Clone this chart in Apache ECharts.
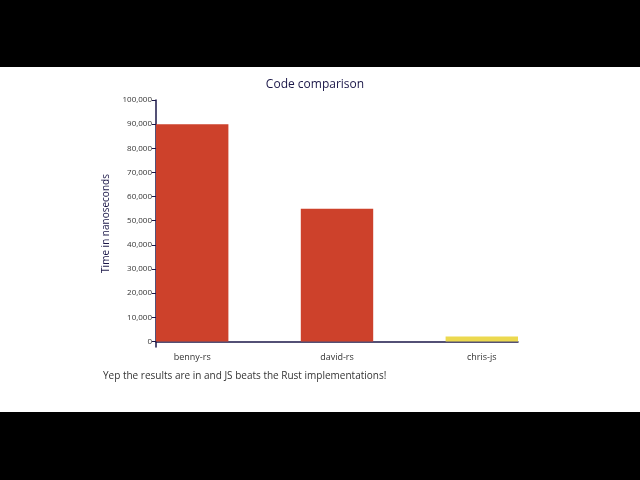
<!DOCTYPE html>
<html><head><meta charset="utf-8">
<script src="https://cdn.jsdelivr.net/npm/echarts@6/dist/echarts.min.js"></script>
<style>html,body{margin:0;padding:0;background:#000}#c{width:640px;height:480px}</style>
</head><body><div id="c"></div>
<script>
const categories = ["benny-rs", "", "david-rs", "", "chris-js"];
const values = [90000, null, 55000, null, 2000];
const colors = ["#cd412b", null, "#cd412b", null, "#ecd94f"];
const yTicks = [0,10000,20000,30000,40000,50000,60000,70000,80000,90000,100000];
const navy = "#1b1748";
const font = "Open Sans";
const chart = echarts.init(document.getElementById('c'));
chart.setOption({
  backgroundColor: '#000',
  animation: false,
  textStyle: {fontFamily: font},
  graphic: [
    {type:'rect', shape:{x:0,y:67,width:640,height:345}, style:{fill:'#fff'}, z:-10, silent:true},
    {type:'text', left:103, top:371, style:{text:'Yep the results are in and JS beats the Rust implementations!', fill:'#333', font:'10px "Open Sans"'}}
  ],
  title: {text:'Code comparison', left:310, top:74, textAlign:'center',
    textStyle:{color:navy, fontSize:12, fontWeight:'normal', fontFamily:font}},
  grid: {left:156, right:122, top:100, bottom:133},
  xAxis: {type:'category', data:categories, boundaryGap:true,
    axisLine:{lineStyle:{color:navy, width:1.5}},
    axisTick:{alignWithLabel:true, length:4, lineStyle:{color:navy}, interval:(i,v)=>v!==''},
    axisLabel:{color:'#333', fontSize:9, margin:6, interval:0}},
  yAxis: {type:'value', min:-2300, max:100000,
    name:'Time in nanoseconds', nameLocation:'middle', nameGap:40, nameRotate:90,
    nameTextStyle:{color:navy, fontSize:10},
    splitLine:{show:false},
    axisLine:{show:true, lineStyle:{color:navy, width:1.5}},
    axisTick:{show:true, length:4, customValues:yTicks, lineStyle:{color:navy}},
    axisLabel:{color:'#333', fontSize:8, margin:4, customValues:yTicks}},
  series: [{type:'bar', barWidth:'100%',
    data: values.map((v,i)=>v==null?null:{value:v, itemStyle:{color:colors[i]}})}]
});
</script></body></html>
